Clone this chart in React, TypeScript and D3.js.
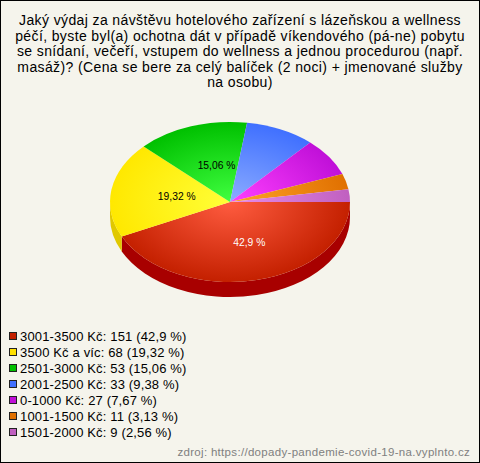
import React from "react";
import * as d3 from "d3";

const categories = ["3001-3500 Kč", "3500 Kč a víc", "2501-3000 Kč", "2001-2500 Kč", "0-1000 Kč", "1001-1500 Kč", "1501-2000 Kč"];
const counts = [151, 68, 53, 33, 27, 11, 9];
const percents = ["42,9", "19,32", "15,06", "9,38", "7,67", "3,13", "2,56"];
const swatchColors = ["#c42000", "#ffe000", "#00c000", "#4070ff", "#c010d8", "#e07000", "#c060c0"];
const edgeColors = ["#c42000", "#ffe800", "#00c000", "#4070ff", "#c010d8", "#e07000", "#c060c0"];
const innerColors = ["#ff5c40", "#ffff38", "#40ff40", "#8cacff", "#ff40ff", "#ffa428", "#e88ce8"];
const wallColors = ["#a80000", "#e0c800", "#00a000", "#3058d0", "#a000b0", "#c06000", "#a050a0"];
const labelColors = ["#fff", "#000", "#000"];
const titleLines = [
  "Jaký výdaj za návštěvu hotelového zařízení s lázeňskou a wellness",
  "péčí, byste byl(a) ochotna dát v případě víkendového (pá-ne) pobytu",
  "se snídaní, večeří, vstupem do wellness a jednou procedurou (např.",
  "masáž)? (Cena se bere za celý balíček (2 noci) + jmenované služby",
  "na osobu)",
];
const source = "zdroj: https://dopady-pandemie-covid-19-na.vyplnto.cz";

const W = 480, H = 463;
const cx = 230, cy = 202, rx = 120, ry = 80, depth = 15;
const font = "'Liberation Sans', Arial, sans-serif";

export default function App() {
  const pie = d3.pie<number>().sort(null).startAngle(Math.PI / 2).endAngle(Math.PI / 2 + 2 * Math.PI);
  const slices = pie(counts);
  const arc = d3.arc<d3.PieArcDatum<number>>().innerRadius(0).outerRadius(rx);
  const total = d3.sum(counts);
  const pt = (a: number) => [cx + rx * Math.sin(a), cy - ry * Math.cos(a)];
  const legendY = d3.scaleLinear().domain([0, categories.length - 1]).range([336, 432]);
  const titleY = d3.scaleLinear().domain([0, 4]).range([25, 87]);

  const walls = slices.map((s, i) => {
    const a0 = Math.max(s.startAngle, Math.PI / 2);
    const a1 = Math.min(s.endAngle, 1.5 * Math.PI);
    if (a1 <= a0) return null;
    const [x0, y0] = pt(a0);
    const [x1, y1] = pt(a1);
    const d = `M${x0},${y0}A${rx},${ry} 0 0 1 ${x1},${y1}L${x1},${y1 + depth}A${rx},${ry} 0 0 0 ${x0},${y0 + depth}Z`;
    return <path key={i} d={d} fill={wallColors[i]} />;
  });

  return (
    <svg width={W} height={H} style={{ position: "fixed", left: 0, top: 0, display: "block" }} fontFamily={font}>
      <defs>
        {categories.map((_, i) => (
          <radialGradient key={i} id={`g${i}`} gradientUnits="userSpaceOnUse" cx={0} cy={0} r={rx}>
            <stop offset="0" stopColor={innerColors[i]} />
            <stop offset="1" stopColor={edgeColors[i]} />
          </radialGradient>
        ))}
      </defs>
      <rect x={0.5} y={0.5} width={W - 1} height={H - 1} fill="#f5f4ec" stroke="#000" />
      {titleLines.map((t, i) => (
        <text key={i} x={240} y={titleY(i)} textAnchor="middle" fontSize={14} letterSpacing={0.38} fill="#000">{t}</text>
      ))}
      {walls}
      <g transform={`translate(${cx},${cy}) scale(1,${ry / rx})`}>
        {slices.map((s, i) => <path key={i} d={arc(s) ?? ""} fill={`url(#g${i})`} />)}
      </g>
      {slices.map((s, i) => {
        if (s.value / total < 0.1) return null;
        const a = (s.startAngle + s.endAngle) / 2;
        const x = cx + 0.5 * rx * Math.sin(a) + 6;
        const y = cy - 0.5 * ry * Math.cos(a) + 1;
        return (
          <text key={i} x={x} y={y} textAnchor="middle" dominantBaseline="central" fontSize={10.3} fill={labelColors[i]}>
            {percents[i]} %
          </text>
        );
      })}
      {categories.map((c, i) => (
        <g key={c}>
          <rect x={9.5} y={legendY(i) - 3.5} width={7} height={7} fill={swatchColors[i]} stroke="#222" />
          <text x={20} y={legendY(i) + 4.5} fontSize={13} letterSpacing={0.15} fill="#000">{`${c}: ${counts[i]} (${percents[i]} %)`}</text>
        </g>
      ))}
      <text x={470} y={456} textAnchor="end" fontSize={11.5} letterSpacing={0.31} fill="#808080">{source}</text>
    </svg>
  );
}
